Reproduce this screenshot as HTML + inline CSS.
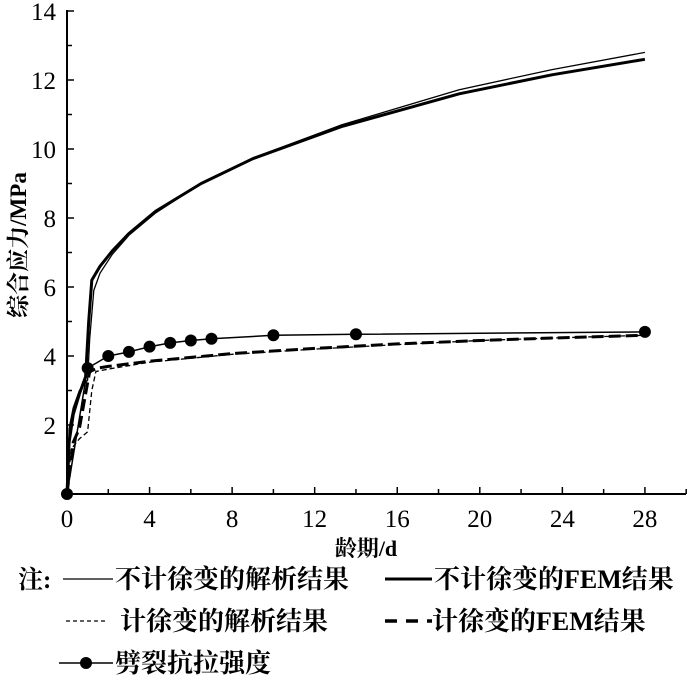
<!DOCTYPE html>
<html><head><meta charset="utf-8"><style>
body{margin:0;background:#fff}
svg text{font-family:"Liberation Serif","Noto Serif CJK SC",serif;fill:#000}
</style></head><body>
<svg id="chart" width="700" height="677" xmlns="http://www.w3.org/2000/svg"></svg>
<script>
const xTicks=[0,4,8,12,16,20,24,28];
const yTicks=[2,4,6,8,10,12,14];
const daysA=[0,0.1,0.3,0.6,1.0,1.1,1.3,1.6,2.2,3,4.3,6.5,9,13.3,19,23.5,28];
const noCreepAnalytic=[0,1.9,2.5,3.0,3.3,4.5,5.9,6.4,6.95,7.5,8.15,9.0,9.74,10.7,11.72,12.3,12.8];
const daysF=[0,0.1,0.3,0.6,0.9,1.05,1.2,1.6,2.2,3,4.3,6.5,9,13.3,19,23.5,28];
const noCreepFEM=[0,1.5,2.3,2.9,3.4,5.0,6.2,6.6,7.05,7.55,8.2,9.0,9.72,10.65,11.6,12.15,12.6];
const daysC=[0,0.2,0.6,1.0,1.2,1.4,2,4,8,12,16,20,24,28];
const creepAnalytic=[0,1.3,1.6,1.8,3.0,3.55,3.62,3.82,4.05,4.2,4.33,4.45,4.53,4.6];
const daysCF=[0,0.3,0.6,0.9,1.1,1.5,2,4,8,12,16,20,24,28];
const creepFEM=[0,1.5,1.9,2.9,3.55,3.65,3.7,3.85,4.07,4.22,4.35,4.45,4.53,4.6];
const daysS=[0,1,2,3,4,5,6,7,10,14,28];
const splitStrength=[0,3.65,4.0,4.12,4.27,4.38,4.45,4.5,4.6,4.63,4.7];
const NS='http://www.w3.org/2000/svg';
const svg=document.getElementById('chart');
const X=v=>67+v*20.64, Y=v=>494-v*34.5;
function el(t,a){const e=document.createElementNS(NS,t);for(const k in a)e.setAttribute(k,a[k]);svg.appendChild(e);return e;}
let e;
e=el('line',{x1:67,y1:494,x2:686,y2:494,stroke:'#000','stroke-width':2});


e=el('line',{x1:67,y1:494,x2:67,y2:10,stroke:'#000','stroke-width':2});


for(let v=0;v<=30;v+=2){e=el('line',{x1:X(v),y1:494,x2:X(v),y2:v%4==0?487:489,stroke:'#000','stroke-width':1.5});

}
for(let v=1;v<=14;v++){e=el('line',{x1:67,y1:Y(v),x2:v%2==0?74:72,y2:Y(v),stroke:'#000','stroke-width':1.5});

}
xTicks.forEach(v=>{e=el('text',{x:X(v),y:527,'text-anchor':'middle','font-size':25});e.textContent=v;

});
yTicks.forEach(v=>{e=el('text',{x:56,y:Y(v)+9,'text-anchor':'end','font-size':25});e.textContent=v;

});
e=el('text',{x:366,y:556,'text-anchor':'middle','font-size':22,'font-weight':'bold'});e.textContent='龄期/d';


e=el('text',{x:0,y:0,'text-anchor':'middle','font-size':23,'font-weight':'bold',transform:'translate(26,245) rotate(-90)'});e.textContent='综合应力/MPa';


function path(xs,ys,attrs,name){const d=xs.map((x,i)=>(i?'L':'M')+X(x).toFixed(1)+','+Y(ys[i]).toFixed(1)).join('');
const p=el('path',Object.assign({d,fill:'none',stroke:'#000','stroke-linejoin':'round'},attrs));

}
path(daysA,noCreepAnalytic,{'stroke-width':1.3},'line-no-creep-analytic');
path(daysF,noCreepFEM,{'stroke-width':3},'line-no-creep-fem');
path(daysC,creepAnalytic,{'stroke-width':1.3,'stroke-dasharray':'5,3'},'line-creep-analytic');
path(daysCF,creepFEM,{'stroke-width':3,'stroke-dasharray':'12,5'},'line-creep-fem');
path(daysS,splitStrength,{'stroke-width':1.5},'line-split-strength');
daysS.forEach((d,i)=>{e=el('circle',{cx:X(d),cy:Y(splitStrength[i]),r:6,fill:'#000'});

});
function leg(x,x2,tx,y,style,label,name,dot){const g=el('g',{});


const l=document.createElementNS(NS,'line');for(const k in style)l.setAttribute(k,style[k]);l.setAttribute('x1',x);l.setAttribute('x2',x2);l.setAttribute('y1',y-9);l.setAttribute('y2',y-9);l.setAttribute('stroke','#000');g.appendChild(l);
if(dot){const c=document.createElementNS(NS,'circle');c.setAttribute('cx',(x+x2)/2);c.setAttribute('cy',y-9);c.setAttribute('r',6);g.appendChild(c);}
const t=document.createElementNS(NS,'text');t.setAttribute('x',tx);t.setAttribute('y',y);t.setAttribute('font-size',26);t.setAttribute('font-weight','bold');t.textContent=label;g.appendChild(t);}
e=el('text',{x:18,y:588,'font-size':25,'font-weight':'bold'});e.textContent='注:';


leg(63,113,115,588,{'stroke-width':1.3},'不计徐变的解析结果','legend-no-creep-analytic');
leg(385,432,434,588,{'stroke-width':3},'不计徐变的FEM结果','legend-no-creep-fem');
leg(66,108,120,630,{'stroke-width':1.3,'stroke-dasharray':'4,3'},'计徐变的解析结果','legend-creep-analytic');
leg(385,432,432,630,{'stroke-width':3.5,'stroke-dasharray':'12,9'},'计徐变的FEM结果','legend-creep-fem');
leg(59,113,115,672,{'stroke-width':1.5},'劈裂抗拉强度','legend-split-strength',true);
</script>
</body></html>
